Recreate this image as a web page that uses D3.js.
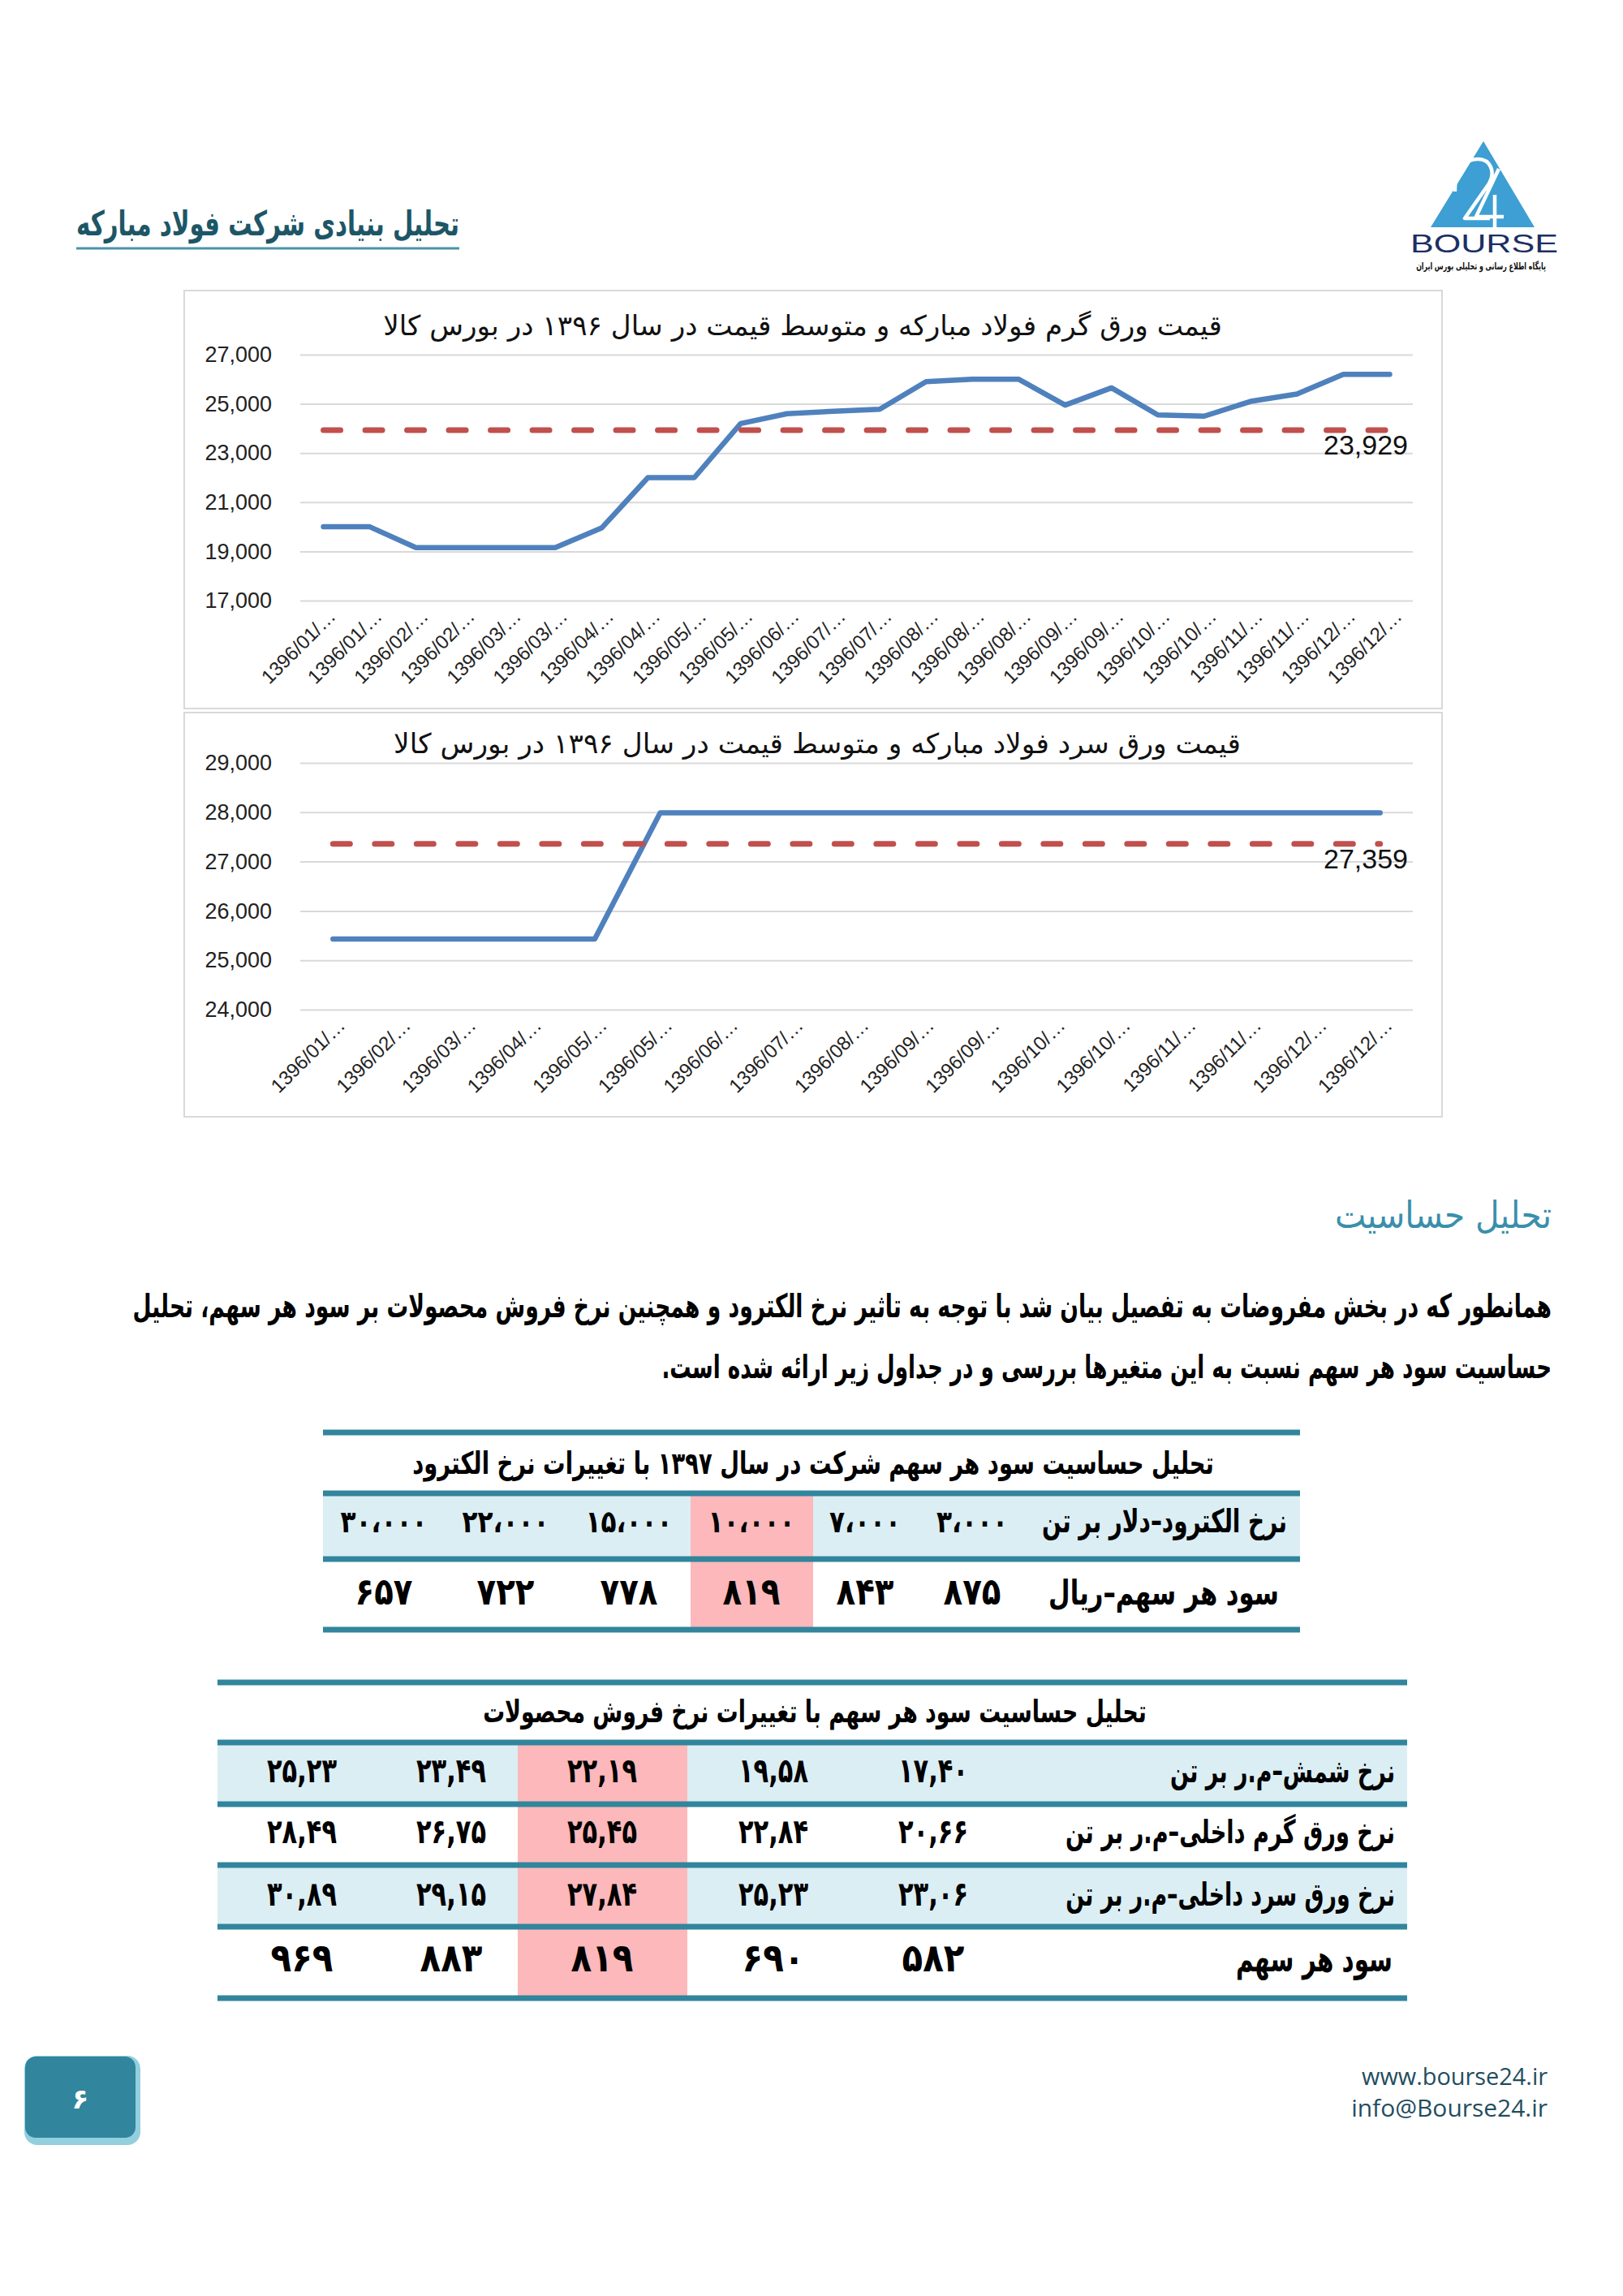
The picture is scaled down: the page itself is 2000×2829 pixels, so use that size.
<!DOCTYPE html>
<html>
<head>
<meta charset="utf-8">
<script src="https://cdn.jsdelivr.net/npm/d3@7"></script>
<style>
  html, body { margin: 0; padding: 0; background: #ffffff; }
  svg { display: block; }
</style>
</head>
<body>
<svg id="page" width="2000" height="2829"></svg>
<script>
// ---------------- DATA ----------------
const hotTitle = "قیمت ورق گرم فولاد مبارکه و متوسط قیمت در سال ۱۳۹۶ در بورس کالا";
const hotLabels = ["1396/01/…","1396/01/…","1396/02/…","1396/02/…","1396/03/…","1396/03/…","1396/04/…","1396/04/…","1396/05/…","1396/05/…","1396/06/…","1396/07/…","1396/07/…","1396/08/…","1396/08/…","1396/08/…","1396/09/…","1396/09/…","1396/10/…","1396/10/…","1396/11/…","1396/11/…","1396/12/…","1396/12/…"];
const hotPrices = [20000, 20000, 19150, 19150, 19150, 19150, 19950, 22000, 22000, 24200, 24600, 24700, 24780, 25900, 26000, 26000, 24950, 25650, 24550, 24500, 25100, 25400, 26200, 26200];
const hotAverage = 23929;
const hotTicks = [17000, 19000, 21000, 23000, 25000, 27000];

const coldTitle = "قیمت ورق سرد فولاد مبارکه و متوسط قیمت در سال ۱۳۹۶ در بورس کالا";
const coldLabels = ["1396/01/…","1396/02/…","1396/03/…","1396/04/…","1396/05/…","1396/05/…","1396/06/…","1396/07/…","1396/08/…","1396/09/…","1396/09/…","1396/10/…","1396/10/…","1396/11/…","1396/11/…","1396/12/…","1396/12/…"];
const coldPrices = [25430, 25430, 25430, 25430, 25430, 27990, 27990, 27990, 27990, 27990, 27990, 27990, 27990, 27990, 27990, 27990, 27990];
const coldAverage = 27359;
const coldTicks = [24000, 25000, 26000, 27000, 28000, 29000];

const pageTitle = "تحلیل بنیادی شرکت فولاد مبارکه";
const sectionTitle = "تحلیل حساسیت";
const paragraphLines = [
  "همانطور که در بخش مفروضات به تفصیل بیان شد با توجه به تاثیر نرخ الکترود و همچنین نرخ فروش محصولات بر سود هر سهم، تحلیل",
  "حساسیت سود هر سهم نسبت به این متغیرها بررسی و در جداول زیر ارائه شده است."
];

const table1Title = "تحلیل حساسیت سود هر سهم شرکت در سال ۱۳۹۷ با تغییرات نرخ الکترود";
const table1RowLabels = ["نرخ الکترود–دلار بر تن", "سود هر سهم–ریال"];
const electrodeRates = [3000, 7000, 10000, 15000, 22000, 30000];
const epsByElectrode = [875, 843, 819, 778, 722, 657];
const table1BaseIndex = 2;

const table2Title = "تحلیل حساسیت سود هر سهم با تغییرات نرخ فروش محصولات";
const table2RowLabels = ["نرخ شمش–م.ر بر تن", "نرخ ورق گرم داخلی–م.ر بر تن", "نرخ ورق سرد داخلی–م.ر بر تن", "سود هر سهم"];
const billetRates = [17.40, 19.58, 22.19, 23.49, 25.23];
const hotSheetRates = [20.66, 22.84, 25.45, 26.75, 28.49];
const coldSheetRates = [23.06, 25.23, 27.84, 29.15, 30.89];
const epsByProduct = [582, 690, 819, 883, 969];
const table2BaseIndex = 2;

const pageNumber = "۶";
const footerLines = ["www.bourse24.ir", "info@Bourse24.ir"];
const logoWord = "BOURSE";
const logoTagline = "پایگاه اطلاع رسانی و تحلیلی بورس ایران";

// ---------------- STYLE ----------------
const FA = "'DejaVu Sans', 'Noto Sans', sans-serif";
const NUM = "'Liberation Sans', Arial, sans-serif";
const TEAL = "#31859c";
const LIGHT = "#dbeef4";
const PINK = "#fcb8ba";
const BLUE = "#4f81bd";
const RED = "#c0504d";
const GRID = "#d9d9d9";

const toFa = s => String(s).replace(/\d/g, d => "۰۱۲۳۴۵۶۷۸۹"[+d]);
const fmtThousands = v => toFa(d3.format(",")(v).replace(/,/g, "،"));
const fmtDecimal = v => toFa(d3.format(".2f")(v).replace(".", ","));
const fmtInt = v => toFa(v);

const svg = d3.select("#page");

// horizontally scale a text around its anchor x so that it spans `target` px
function fitWidth(t, target, x) {
  const w = t.node().getComputedTextLength();
  if (!w || !target) return 1;
  const s = target / w;
  t.attr("transform", `translate(${x},0) scale(${s},1) translate(${-x},0)`);
  return s;
}

function faText(parent, o) {
  const t = parent.append("text")
    .attr("x", o.x).attr("y", o.y)
    .attr("font-family", o.font || FA)
    .attr("font-size", o.size)
    .attr("font-weight", o.weight || "normal")
    .attr("fill", o.fill || "#000")
    .attr("direction", "rtl")
    .attr("text-anchor", o.anchor === "middle" ? "middle" : "start")
    .text(o.text);
  if (o.width) fitWidth(t, o.width, o.x);
  return t;
}

// ---------------- HEADER ----------------
faText(svg, { x: 330, y: 290, text: pageTitle, size: 42, weight: "bold", fill: "#1d5666", anchor: "middle", width: 472 });
svg.append("rect").attr("x", 94).attr("y", 304.5).attr("width", 472).attr("height", 3).attr("fill", "#4a93a9");

// logo
const logo = svg.append("g");
logo.append("path").attr("d", "M1828,174 L1891,280 L1763,280 Z").attr("fill", "#3d9fd3");
logo.append("path")
  .attr("d", "M1793,236 C1792,210 1806,196 1821,196 C1837,196 1843,212 1835,226 L1805,269 L1836,269 M1847,208 L1819,267 L1853,267 M1842,240 L1842,280")
  .attr("fill", "none").attr("stroke", "#fff").attr("stroke-width", 4.5).attr("stroke-linejoin", "round");
const lw = logo.append("text").attr("x", 1829).attr("y", 311).attr("text-anchor", "middle")
  .attr("font-family", NUM).attr("font-size", 31).attr("fill", "#1c2f63").text(logoWord);
fitWidth(lw, 182, 1829);
faText(logo, { x: 1825, y: 332, text: logoTagline, size: 12, weight: "bold", fill: "#111", anchor: "middle", width: 160 });

// ---------------- CHARTS ----------------
function drawChart(cfg) {
  const g = svg.append("g");
  g.append("rect").attr("x", cfg.box.x).attr("y", cfg.box.y).attr("width", cfg.box.w).attr("height", cfg.box.h)
    .attr("fill", "#fff").attr("stroke", GRID).attr("stroke-width", 2);

  faText(g, { x: cfg.titleX, y: cfg.titleY, text: cfg.title, size: 34, fill: "#111", anchor: "middle", width: cfg.titleW });

  const x = d3.scalePoint().domain(d3.range(cfg.labels.length)).range([cfg.left, cfg.right]).padding(0.5);
  const y = d3.scaleLinear().domain([cfg.ticks[0], cfg.ticks[cfg.ticks.length - 1]]).range([cfg.bottom, cfg.top]);

  const ya = g.append("g").attr("transform", `translate(${cfg.left},0)`)
    .call(d3.axisLeft(y).tickValues(cfg.ticks).tickSize(-(cfg.right - cfg.left)).tickPadding(35).tickFormat(d3.format(",")));
  ya.select(".domain").remove();
  ya.selectAll(".tick line").attr("stroke", GRID).attr("stroke-width", 2);
  ya.selectAll(".tick text").attr("font-family", NUM).attr("font-size", 27).attr("fill", "#222");

  const xa = g.append("g").attr("transform", `translate(0,${cfg.bottom})`)
    .call(d3.axisBottom(x).tickSize(0).tickFormat(i => cfg.labels[i]));
  xa.select(".domain").remove();
  xa.selectAll(".tick text")
    .attr("font-family", NUM).attr("font-size", 24).attr("fill", "#222")
    .attr("text-anchor", "end").attr("x", 0).attr("y", 0).attr("dy", "0.35em")
    .attr("transform", "translate(10,15) rotate(-45)");

  g.append("path").datum(cfg.values)
    .attr("d", d3.line().x((d, i) => x(i)).y(d => y(d)))
    .attr("fill", "none").attr("stroke", BLUE).attr("stroke-width", 6.5)
    .attr("stroke-linejoin", "round").attr("stroke-linecap", "round");

  const n = cfg.labels.length;
  g.append("path").datum([cfg.average, cfg.average])
    .attr("d", d3.line().x((d, i) => x(i * (n - 1))).y(d => y(d)))
    .attr("fill", "none").attr("stroke", RED).attr("stroke-width", 7)
    .attr("stroke-dasharray", "21,30.5").attr("stroke-linecap", "round");

  g.append("text").attr("x", cfg.right - 6).attr("y", y(cfg.average) + 30)
    .attr("text-anchor", "end").attr("font-family", NUM).attr("font-size", 34).attr("fill", "#111")
    .text(d3.format(",")(cfg.average));
}

drawChart({
  box: { x: 227, y: 358, w: 1550, h: 515 }, left: 370, right: 1741, top: 437, bottom: 740,
  title: hotTitle, titleX: 989, titleY: 413, titleW: 1034,
  labels: hotLabels, values: hotPrices, average: hotAverage, ticks: hotTicks
});
drawChart({
  box: { x: 227, y: 878, w: 1550, h: 498 }, left: 370, right: 1741, top: 940, bottom: 1244,
  title: coldTitle, titleX: 1007, titleY: 928, titleW: 1044,
  labels: coldLabels, values: coldPrices, average: coldAverage, ticks: coldTicks
});

// ---------------- TEXT SECTION ----------------
faText(svg, { x: 1912, y: 1513, text: sectionTitle, size: 46, fill: "#3a8fab", width: 267 });
faText(svg, { x: 1912, y: 1623, text: paragraphLines[0], size: 40, weight: "bold", width: 1749 });
faText(svg, { x: 1912, y: 1698, text: paragraphLines[1], size: 40, weight: "bold", width: 1097 });

// ---------------- TABLES ----------------
function rule(y, x0, x1) {
  svg.append("rect").attr("x", x0).attr("y", y - 3.5).attr("width", x1 - x0).attr("height", 7).attr("fill", TEAL);
}

function drawRowValues(vals, centers, base, size, refWidth) {
  const ts = svg.selectAll(null).data(vals).enter().append("text")
    .attr("x", (d, i) => centers[i]).attr("y", base)
    .attr("text-anchor", "middle").attr("font-family", FA).attr("font-weight", "bold")
    .attr("font-size", size).attr("fill", "#000").text(d => d);
  const w0 = ts.nodes()[0].getComputedTextLength();
  const s = refWidth / w0;
  ts.attr("transform", (d, i) => `translate(${centers[i]},0) scale(${s},1) translate(${-centers[i]},0)`);
}

// Table 1
(function () {
  const x0 = 398, x1 = 1602;
  const rules = [1765, 1840, 1921, 2008];
  const centers = [1198, 1066, 926, 775, 623, 473];
  const hl = [851, 1002];
  svg.append("rect").attr("x", x0).attr("y", rules[1]).attr("width", x1 - x0).attr("height", rules[2] - rules[1]).attr("fill", LIGHT);
  svg.append("rect").attr("x", hl[0]).attr("y", rules[1]).attr("width", hl[1] - hl[0]).attr("height", rules[3] - rules[1])
    .attr("fill", PINK);
  rules.forEach(r => rule(r, x0, x1));
  faText(svg, { x: 1002, y: 1816, text: table1Title, size: 38, weight: "bold", anchor: "middle", width: 988 });

  const rows = [
    { label: table1RowLabels[0], vals: electrodeRates.map(fmtThousands), base: 1888, size: 38, ref: 88, lsize: 40, lw: 302, lx: 1586 },
    { label: table1RowLabels[1], vals: epsByElectrode.map(fmtInt), base: 1977, size: 46, ref: 71, lsize: 42, lw: 284, lx: 1576 }
  ];
  rows.forEach(r => {
    faText(svg, { x: r.lx, y: r.base, text: r.label, size: r.lsize, weight: "bold", width: r.lw });
    drawRowValues(r.vals, centers, r.base, r.size, r.ref);
  });
})();

// Table 2
(function () {
  const x0 = 268, x1 = 1734;
  const rules = [2073, 2147, 2223, 2298, 2374, 2462];
  const centers = [1150, 953, 742, 556, 372];
  const hl = [638, 847];
  [1, 3].forEach(k => {
    svg.append("rect").attr("x", x0).attr("y", rules[k]).attr("width", x1 - x0).attr("height", rules[k + 1] - rules[k]).attr("fill", LIGHT);
  });
  svg.append("rect").attr("x", hl[0]).attr("y", rules[1]).attr("width", hl[1] - hl[0]).attr("height", rules[5] - rules[1])
    .attr("fill", PINK);
  rules.forEach(r => rule(r, x0, x1));
  faText(svg, { x: 1004, y: 2122, text: table2Title, size: 38, weight: "bold", anchor: "middle", width: 818 });

  const rows = [
    { label: table2RowLabels[0], vals: billetRates.map(fmtDecimal), base: 2196, size: 42, ref: 86, lsize: 40, lw: 277, lx: 1719 },
    { label: table2RowLabels[1], vals: hotSheetRates.map(fmtDecimal), base: 2271, size: 42, ref: 86, lsize: 40, lw: 406, lx: 1719 },
    { label: table2RowLabels[2], vals: coldSheetRates.map(fmtDecimal), base: 2348, size: 42, ref: 86, lsize: 40, lw: 406, lx: 1719 },
    { label: table2RowLabels[3], vals: epsByProduct.map(fmtInt), base: 2429, size: 48, ref: 77, lsize: 44, lw: 193, lx: 1716 }
  ];
  rows.forEach(r => {
    faText(svg, { x: r.lx, y: r.base, text: r.label, size: r.lsize, weight: "bold", width: r.lw });
    drawRowValues(r.vals, centers, r.base, r.size, r.ref);
  });
})();

// ---------------- FOOTER ----------------
svg.append("rect").attr("x", 30).attr("y", 2533).attr("width", 143).attr("height", 110).attr("rx", 16).attr("fill", "#93cfdf");
svg.append("rect").attr("x", 31).attr("y", 2534).attr("width", 136).attr("height", 100).attr("rx", 13).attr("fill", TEAL);
svg.append("text").attr("x", 99).attr("y", 2598).attr("text-anchor", "middle").attr("font-family", FA)
  .attr("font-weight", "bold").attr("font-size", 34).attr("fill", "#fff").text(pageNumber);
footerLines.forEach((t, i) => {
  const ft = svg.append("text").attr("x", 1907).attr("y", 2569 + i * 39).attr("text-anchor", "end")
    .attr("font-family", "'Open Sans', sans-serif").attr("font-size", 29).attr("fill", "#1f4e5f").text(t);
  fitWidth(ft, i === 0 ? 229 : 242, 1907);
});
</script>
</body>
</html>
